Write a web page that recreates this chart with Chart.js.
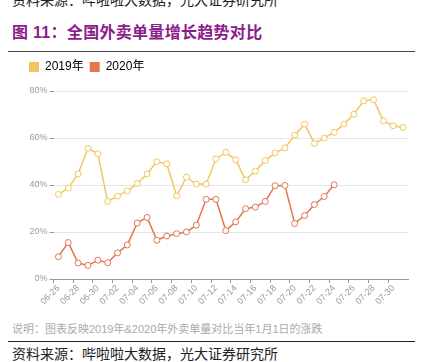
<!DOCTYPE html>
<html>
<head>
<meta charset="utf-8">
<script src="https://cdn.jsdelivr.net/npm/chart.js@4"></script>
<style>
    body { margin: 0; width: 422px; height: 362px; background: #fff; position: relative; overflow: hidden;
           font-family: "Liberation Sans", "Noto Sans CJK SC", sans-serif; }
    .src { position: absolute; left: 12px; font-family: "Noto Sans CJK SC", sans-serif; font-size: 14px; color: #222; white-space: nowrap; }
    #title { position: absolute; left: 12px; top: 19px; font-size: 16px; font-weight: bold; color: #8c1c8c;
             font-family: "Liberation Sans", "Noto Sans CJK SC", sans-serif; white-space: nowrap; letter-spacing: 0.3px; }
    .rule { position: absolute; left: 8px; width: 407px; height: 1px; background: #444; }
    #note { position: absolute; left: 12px; top: 320px; font-size: 11px; color: #aaa; white-space: nowrap; }
    #chart-box { position: absolute; left: 0; top: 55px; width: 422px; height: 263px; }
</style>
</head>
<body>
<div class="src" style="top:-11px">资料来源：哔啦啦大数据，光大证券研究所</div>
<div id="title">图 11：全国外卖单量增长趋势对比</div>
<div class="rule" style="top:51px"></div>
<div id="chart-box"><canvas id="lineChart"></canvas></div>
<div id="note">说明：图表反映2019年&amp;2020年外卖单量对比当年1月1日的涨跌</div>
<div class="rule" style="top:341px; background:#222"></div>
<div class="src" style="top:343px">资料来源：哔啦啦大数据，光大证券研究所</div>

<script>
// 06-26 .. 07-31, one point per day
var dateLabels = ['06-26', '06-27', '06-28', '06-29', '06-30',
    '07-01', '07-02', '07-03', '07-04', '07-05', '07-06', '07-07', '07-08', '07-09', '07-10',
    '07-11', '07-12', '07-13', '07-14', '07-15', '07-16', '07-17', '07-18', '07-19', '07-20',
    '07-21', '07-22', '07-23', '07-24', '07-25', '07-26', '07-27', '07-28', '07-29', '07-30', '07-31'];

var seriesNames = ['2019年', '2020年'];

// growth vs Jan 1st of the same year, %
var data2019 = [36, 38.7, 44.7, 55.6, 53.3, 33, 35.3, 37.5, 40.6, 44.7, 49.9, 49,
    35.4, 43.3, 40.4, 40.4, 51.1, 53.9, 50.7, 42.2, 45.9, 50.4, 53.6, 55.8,
    61.2, 65.9, 57.7, 60, 62.4, 65.9, 70.1, 75.8, 76.3, 67.3, 65.2, 64.5];
var data2020 = [9.5, 15.5, 6.8, 5.8, 8, 6.9, 11.1, 14.5, 23.8, 26.2, 16.5, 18.3,
    19.3, 20, 22.9, 33.9, 33.9, 20.6, 24.3, 29.9, 30.6, 33, 39.7, 39.8,
    23.6, 27, 31.7, 35.1, 40.1, null, null, null, null, null, null, null];

var yTicks = [0, 20, 40, 60, 80];

var colors = ['#f2c55e', '#e27750'];

function makeSet(i, values) {
    return {
        label: seriesNames[i],
        data: values,
        borderColor: colors[i],
        backgroundColor: colors[i],
        borderWidth: 1.5,
        pointRadius: 3,
        pointBorderWidth: 1,
        pointBackgroundColor: '#fff',
        pointBorderColor: colors[i],
        tension: 0,
        spanGaps: false
    };
}

// leave some room between the legend and the plot
var legendGap = {
    id: 'legendGap',
    beforeInit: function (chart) {
        var fit = chart.legend.fit;
        chart.legend.fit = function () {
            fit.bind(chart.legend)();
            this.height += 8;
        };
    }
};

var ctx = document.getElementById('lineChart').getContext('2d');
new Chart(ctx, {
    type: 'line',
    data: {
        labels: dateLabels,
        datasets: [makeSet(0, data2019), makeSet(1, data2020)]
    },
    plugins: [legendGap],
    options: {
        responsive: true,
        maintainAspectRatio: false,
        animation: false,
        layout: { padding: { left: 23, right: 14, top: 0, bottom: 0 } },
        plugins: {
            tooltip: { enabled: false },
            legend: {
                position: 'top',
                align: 'start',
                labels: {
                    boxWidth: 10,
                    boxHeight: 10,
                    padding: 6,
                    color: '#888',
                    font: { size: 12, family: '"Liberation Sans", "Noto Sans CJK SC", sans-serif' },
                    generateLabels: function (chart) {
                        return chart.data.datasets.map(function (ds, i) {
                            return { text: ds.label, fillStyle: colors[i], strokeStyle: colors[i], lineWidth: 0, datasetIndex: i };
                        });
                    }
                }
            }
        },
        scales: {
            x: {
                offset: true,
                grid: {
                    offset: true,
                    drawOnChartArea: false,
                    drawTicks: true,
                    tickLength: 4,
                    tickColor: function (c) { return c.index % 2 === 0 ? '#999' : 'rgba(0,0,0,0)'; }
                },
                border: { display: true, color: '#999', width: 1 },
                ticks: {
                    autoSkip: false,
                    maxRotation: 45,
                    minRotation: 45,
                    padding: 0,
                    color: '#999',
                    font: { size: 9, family: '"Liberation Sans", sans-serif' },
                    callback: function (val, i) { return i % 2 === 0 ? dateLabels[i] : ''; }
                },
                afterFit: function (scale) { scale.height = 39; }
            },
            y: {
                min: yTicks[0],
                max: yTicks[yTicks.length - 1],
                afterBuildTicks: function (scale) {
                    scale.ticks = yTicks.map(function (v) { return { value: v }; });
                },
                grid: {
                    color: function (c) { return c.tick.value === 0 ? '#999' : '#e6e6e6'; },
                    tickColor: '#999',
                    tickLength: 4
                },
                border: { display: false },
                ticks: {
                    padding: 2,
                    color: '#999',
                    font: { size: 9, family: '"Liberation Sans", sans-serif' },
                    callback: function (v) { return v + '%'; }
                },
                afterFit: function (scale) { scale.width = 30.5; }
            }
        }
    }
});
</script>
</body>
</html>
